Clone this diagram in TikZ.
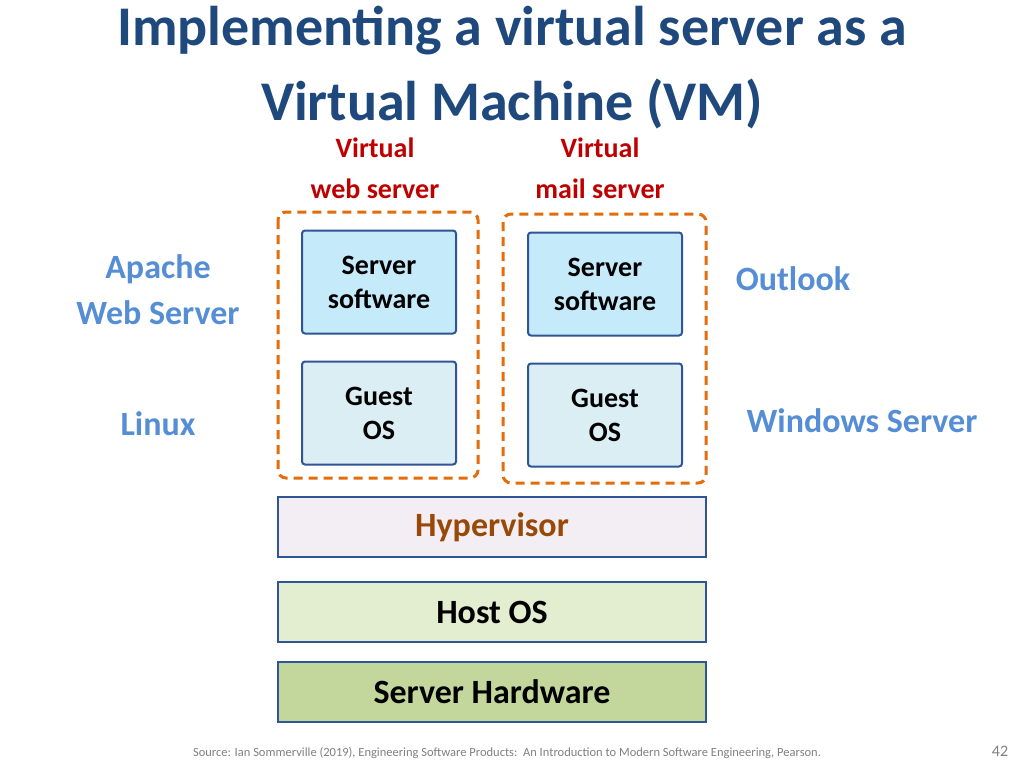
\documentclass[tikz,border=0pt]{standalone}
\usepackage{fontspec}
\setmainfont{Carlito}
\begin{document}
\begin{tikzpicture}[x=1pt,y=-1pt]
\definecolor{tblue}{RGB}{31,73,125}
\definecolor{lblue}{RGB}{85,142,213}
\definecolor{vred}{RGB}{192,0,0}
\definecolor{dorange}{RGB}{228,108,10}
\definecolor{bord}{RGB}{47,85,151}
\tikzset{
 inner/.style={draw=bord,line width=2pt,rounded corners=3pt,align=center,font=\fontsize{28}{34}\selectfont\bfseries,minimum width=154pt,minimum height=103pt,inner sep=0pt},
 layer/.style={draw=bord,line width=2pt,minimum width=428pt,minimum height=60pt,inner sep=0pt,font=\fontsize{34}{40}\selectfont\bfseries},
 vm/.style={draw=dorange,line width=3pt,dash pattern=on 9pt off 6pt,rounded corners=8pt},
 side/.style={text=lblue,align=center,font=\fontsize{34}{46}\selectfont\bfseries},
 vlab/.style={text=vred,align=center,font=\fontsize{28}{41}\selectfont\bfseries}
}
\path[use as bounding box,fill=white] (0,0) rectangle (1024,768);
\node[text=tblue,align=center,font=\fontsize{56}{75}\selectfont\bfseries] (title) at (512,68) {Implementing a virtual server as a\\Virtual Machine (VM)};
\node[vlab] (v1) at (375,168) {Virtual\\web server};
\node[vlab] (v2) at (600,168) {Virtual\\mail server};
\draw[vm] (278,212) rectangle (478,478);
\draw[vm] (503,214) rectangle (706,483);
\node[inner,fill={rgb,255:red,197;green,235;blue,250}] (s1) at (379,282) {Server\\software};
\node[inner,fill={rgb,255:red,218;green,238;blue,243}] (g1) at (379,413) {Guest\\OS};
\node[inner,fill={rgb,255:red,197;green,235;blue,250}] (s2) at (605,284) {Server\\software};
\node[inner,fill={rgb,255:red,218;green,238;blue,243}] (g2) at (605,415) {Guest\\OS};
\node[layer,fill={rgb,255:red,242;green,238;blue,244},text={rgb,255:red,152;green,72;blue,7}] (hyp) at (492,527) {Hypervisor};
\node[layer,fill={rgb,255:red,227;green,237;blue,207}] (host) at (492,612) {Host OS};
\node[layer,fill={rgb,255:red,195;green,214;blue,155}] (hw) at (492,692) {Server Hardware};
\node[side] (apache) at (158,290) {Apache\\Web Server};
\node[side] (linux) at (158,424) {Linux};
\node[side] (outlook) at (793,279) {Outlook};
\node[side] (win) at (862,421) {Windows Server};
\node[text=gray,font=\fontsize{12.5}{14}\selectfont] (src) at (507,753) {Source: Ian Sommerville (2019), Engineering Software Products:\ \ An Introduction to Modern Software Engineering, Pearson.};
\node[text=gray,font=\fontsize{16}{18}\selectfont] (num) at (1000,751) {42};
\end{tikzpicture}
\end{document}
